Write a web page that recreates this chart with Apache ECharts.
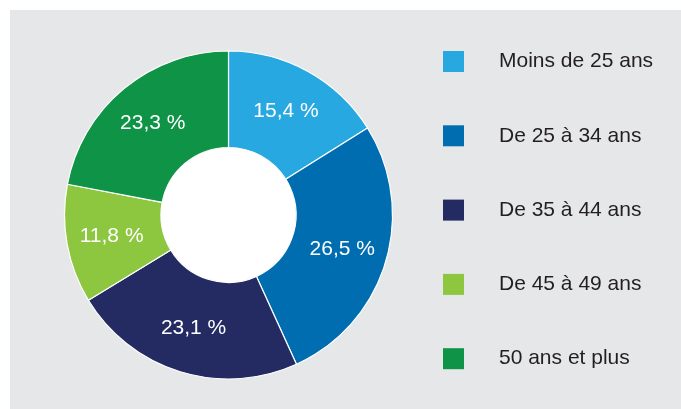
<!DOCTYPE html>
<html>
<head>
<meta charset="utf-8">
<script src="https://cdn.jsdelivr.net/npm/echarts@6/dist/echarts.min.js"></script>
<style>
html,body{margin:0;padding:0;background:#fff;}
#c{width:681px;height:409px;}
</style>
</head>
<body>
<div id="c"></div>
<script>
const categories = ['Moins de 25 ans', 'De 25 à 34 ans', 'De 35 à 44 ans', 'De 45 à 49 ans', '50 ans et plus'];
// printed percentages
const labels = ['15,4 %', '26,5 %', '23,1 %', '11,8 %', '23,3 %'];
// slice shares as drawn in the picture (angles)
const values = [16.1, 27.1, 23.1, 11.7, 22.0];
const colors = ['#27a8e0', '#006db0', '#232b62', '#8dc63f', '#0f9347'];

const chart = echarts.init(document.getElementById('c'), null, {renderer: 'canvas'});
const cx = 228.5, cy = 215;
chart.setOption({
  backgroundColor: '#ffffff',
  animation: false,
  graphic: [
    {type: 'rect', shape: {x: 10, y: 10, width: 671, height: 399}, style: {fill: '#e6e7e8'}, z: -10, silent: true},
    {type: 'circle', shape: {cx: cx, cy: cy, r: 68}, style: {fill: '#ffffff'}, z: -5, silent: true}
  ],
  legend: {
    orient: 'vertical',
    left: 443,
    top: 51,
    padding: 0,
    itemWidth: 21,
    itemHeight: 21,
    itemGap: 53.3,
    icon: 'rect',
    selectedMode: false,
    itemStyle: {borderWidth: 0},
    textStyle: {
      fontFamily: 'Liberation Sans, Arial, sans-serif',
      fontSize: 21,
      lineHeight: 21,
      color: '#231f20',
      padding: [0, 0, 0, 30]
    },
    data: categories
  },
  series: [{
    type: 'pie',
    center: [cx, cy],
    radius: [67.5, 164],
    startAngle: 90,
    clockwise: true,
    silent: true,
    itemStyle: {borderColor: '#ffffff', borderWidth: 1.2},
    label: {
      show: true,
      position: 'inside',
      color: '#ffffff',
      fontFamily: 'Liberation Sans, Arial, sans-serif',
      fontSize: 21,
      formatter: p => labels[p.dataIndex]
    },
    labelLine: {show: false},
    emphasis: {disabled: true},
    data: categories.map((n, i) => ({name: n, value: values[i], itemStyle: {color: colors[i]}}))
  }]
});
</script>
</body>
</html>
